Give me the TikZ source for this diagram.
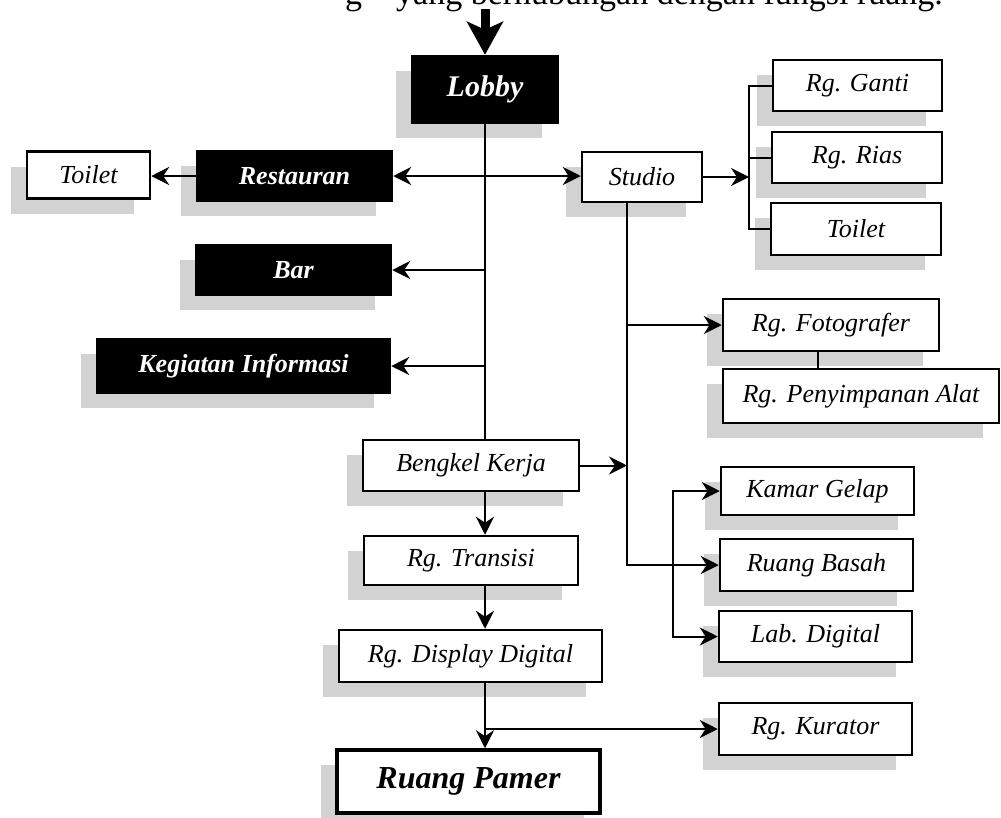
\documentclass[tikz,border=0pt]{standalone}
\usepackage{fontspec}
\setmainfont{Liberation Serif}
\usetikzlibrary{arrows.meta,shadows}
\tikzset{
  room/.style={draw=black, line width=2.5pt, fill=white, inner sep=0pt,
    font=\fontsize{26}{30}\selectfont\itshape,
    general shadow={fill=gray!35, shadow xshift=-16pt, shadow yshift=-15pt}},
  darkroom/.style={room, fill=black, text=white,
    font=\fontsize{26}{30}\selectfont\bfseries\itshape},
  conn/.style={line width=2pt},
  arr/.style={conn, -{Stealth[length=18pt,width=18pt,inset=6pt]}},
  dblarr/.style={conn, {Stealth[length=18pt,width=18pt,inset=6pt]}-{Stealth[length=18pt,width=18pt,inset=6pt]}},
  bigarr/.style={line width=9pt, -{Stealth[length=33pt,width=36pt,inset=8pt]}},
}
\begin{document}
\begin{tikzpicture}[x=1pt,y=-1pt]
\path[use as bounding box] (0,0) rectangle (1001,817);
\begin{scope}
\clip (0,0) rectangle (1001,817);
\node[anchor=base west, inner sep=0pt, font=\fontsize{34}{40}\selectfont] (caption) at (345,4) {g\quad yang berhubungan dengan fungsi ruang.};
\end{scope}

% rooms
\node[darkroom, minimum width=146pt, minimum height=67pt, font=\fontsize{30}{34}\selectfont\bfseries\itshape] (lobby) at (485,89.5) {Lobby};
\node[darkroom, minimum width=195pt, minimum height=50pt] (restauran) at (294.5,176) {Restauran};
\node[room, minimum width=123pt, minimum height=47pt] (toiletL) at (88.5,175) {Toilet};
\node[darkroom, minimum width=195pt, minimum height=50pt] (bar) at (293.5,270) {Bar};
\node[darkroom, minimum width=293pt, minimum height=54pt] (kegiatan) at (243.5,366) {Kegiatan Informasi};
\node[room, minimum width=120pt, minimum height=50pt] (studio) at (642,177) {Studio};
\node[room, minimum width=169pt, minimum height=51pt] (ganti) at (857.5,85.5) {Rg. Ganti};
\node[room, minimum width=170pt, minimum height=51pt] (rias) at (857,157.5) {Rg. Rias};
\node[room, minimum width=170pt, minimum height=52pt] (toiletR) at (856,229) {Toilet};
\node[room, minimum width=216pt, minimum height=52pt] (foto) at (831,325) {Rg. Fotografer};
\node[room, minimum width=276pt, minimum height=54pt] (simpan) at (861,396) {Rg. Penyimpanan Alat};
\node[room, minimum width=216pt, minimum height=51pt] (bengkel) at (471,465.5) {Bengkel Kerja};
\node[room, minimum width=214pt, minimum height=49pt] (transisi) at (471,560.5) {Rg. Transisi};
\node[room, minimum width=263pt, minimum height=52pt] (display) at (470.5,656) {Rg. Display Digital};
\node[room, line width=3.5pt, minimum width=263pt, minimum height=63pt, font=\fontsize{32}{36}\selectfont\bfseries\itshape] (pamer) at (468.5,781.5) {Ruang Pamer};
\node[room, minimum width=193pt, minimum height=48pt] (kamar) at (817.5,491) {Kamar Gelap};
\node[room, minimum width=193pt, minimum height=52pt] (basah) at (816.5,565) {Ruang Basah};
\node[room, minimum width=193pt, minimum height=51pt] (lab) at (815.5,636.5) {Lab. Digital};
\node[room, minimum width=193pt, minimum height=52pt] (kurator) at (815.5,729) {Rg. Kurator};

% helper coordinates
\coordinate (top) at (485,9);
\coordinate (trunk) at (485,0);
\coordinate (strunk) at (627,0);
\coordinate (sbx) at (749,0);
\coordinate (kbx) at (673,0);
\coordinate (px) at (818,0);

% connectors
\draw[bigarr] (top) -- (lobby.north);
\draw[conn] (lobby.south) -- (lobby.south |- bengkel.north);
\draw[dblarr] (restauran.east) -- (restauran.east -| studio.west);
\draw[arr] (restauran.west) -- (restauran.west -| toiletL.east);
\draw[arr] (trunk |- bar.east) -- (bar.east);
\draw[arr] (trunk |- kegiatan.east) -- (kegiatan.east);
\draw[arr] (studio.east) -- (studio.east -| sbx);
\draw[conn] (ganti.west) -| (sbx |- toiletR.west) -- (toiletR.west);
\draw[conn] (rias.west) -- (rias.west -| sbx);
\draw[arr] (studio.south -| strunk) |- (basah.west);
\draw[arr] (strunk |- foto.west) -- (foto.west);
\draw[conn] (foto.south -| px) -- (simpan.north -| px);
\draw[arr] (bengkel.east) -- (bengkel.east -| strunk);
\draw[arr] (kbx |- basah.west) |- (kamar.west);
\draw[arr] (kbx |- basah.west) |- (lab.west);
\draw[arr] (bengkel.south -| trunk) -- (transisi.north -| trunk);
\draw[arr] (transisi.south -| trunk) -- (display.north -| trunk);
\draw[arr] (display.south -| trunk) -- (pamer.north -| trunk);
\draw[arr] (trunk |- kurator.west) -- (kurator.west);
\end{tikzpicture}
\end{document}
